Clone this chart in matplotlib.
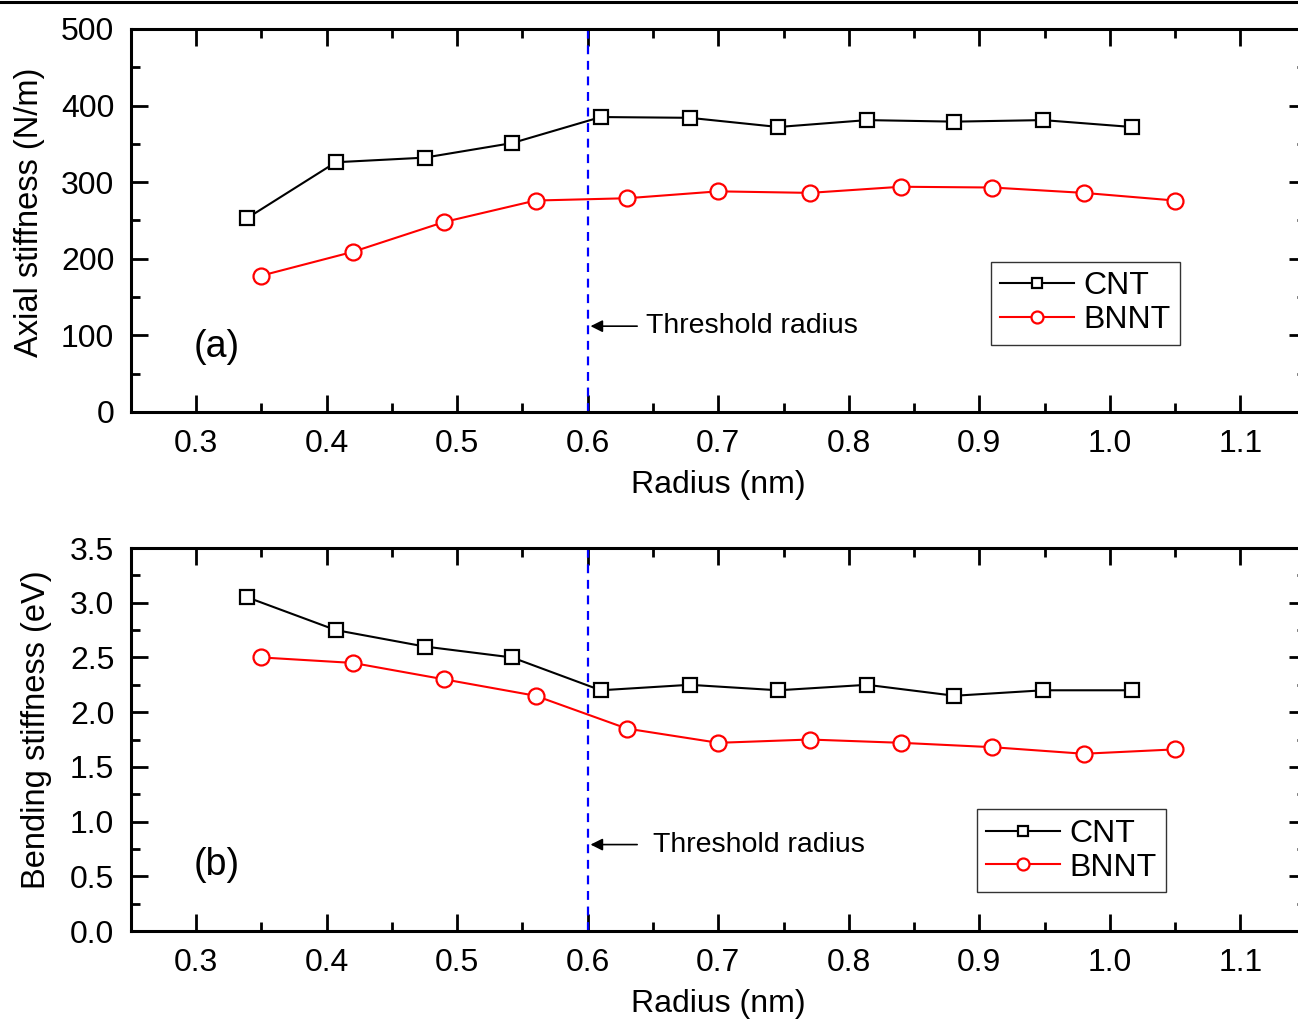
import matplotlib
matplotlib.use("Agg")
import matplotlib.pyplot as plt
from matplotlib.lines import Line2D
from matplotlib.ticker import MultipleLocator

plt.rcParams['font.family'] = ['Liberation Sans', 'DejaVu Sans']

# Tube radii (nm)
cnt_radius = [0.339, 0.407, 0.475, 0.542, 0.610, 0.678, 0.746, 0.814, 0.881, 0.949, 1.017]
bnnt_radius = [0.350, 0.420, 0.490, 0.560, 0.630, 0.700, 0.770, 0.840, 0.910, 0.980, 1.050]

# Axial stiffness (N/m)
cnt_axial = [253, 326, 332, 351, 385, 384, 372, 381, 379, 381, 372]
bnnt_axial = [178, 209, 248, 276, 279, 288, 286, 294, 293, 286, 276]

# Bending stiffness (eV)
cnt_bending = [3.05, 2.75, 2.60, 2.50, 2.20, 2.25, 2.20, 2.25, 2.15, 2.20, 2.20]
bnnt_bending = [2.50, 2.45, 2.30, 2.15, 1.85, 1.72, 1.75, 1.72, 1.68, 1.62, 1.66]

threshold = 0.6
x_ticks = [0.3, 0.4, 0.5, 0.6, 0.7, 0.8, 0.9, 1.0, 1.1]
x_tick_labels = ["0.3", "0.4", "0.5", "0.6", "0.7", "0.8", "0.9", "1.0", "1.1"]

fig = plt.figure(figsize=(12.98, 10.23), dpi=100)
ax1 = fig.add_axes([0.1009, 0.5973, 0.9049, 0.3744])
ax2 = fig.add_axes([0.1009, 0.0899, 0.9049, 0.3744])

# thin rule across the top of the figure
fig.add_artist(Line2D([0, 1], [0.998, 0.998], transform=fig.transFigure,
                      color='black', lw=2.2))


def style_axes(ax, ymax, ymajor, yminor, ylabel, ylabel_fmt, label_xy):
    ax.set_xlim(0.25, 1.15)
    ax.set_ylim(0, ymax)
    ax.set_xticks(x_ticks)
    ax.set_xticklabels(x_tick_labels)
    ax.xaxis.set_minor_locator(MultipleLocator(0.05))
    ax.yaxis.set_major_locator(MultipleLocator(ymajor))
    ax.yaxis.set_minor_locator(MultipleLocator(yminor))
    ax.yaxis.set_major_formatter(ylabel_fmt)
    ax.tick_params(which='both', direction='in', top=True, right=True,
                   width=2.0, labelsize=23)
    ax.tick_params(axis='x', pad=12)
    ax.tick_params(axis='y', pad=12)
    ax.tick_params(which='major', length=12)
    ax.tick_params(which='minor', length=6.5)
    for s in ax.spines.values():
        s.set_linewidth(2.2)
    ax.set_xlabel("Radius (nm)", fontsize=23, labelpad=8)
    ax.set_ylabel(ylabel, fontsize=23.5)
    ax.yaxis.set_label_coords(*label_xy)


def draw_panel(ax, cnt_y, bnnt_y):
    ax.plot(cnt_radius, cnt_y, '-s', color='black', lw=1.5, ms=10,
            mfc='white', mec='black', mew=1.6, label='CNT')
    ax.plot(bnnt_radius, bnnt_y, '-o', color='red', lw=1.5, ms=11.5,
            mfc='white', mec='red', mew=1.6, label='BNNT')
    ax.axvline(threshold, color='blue', ls=(0, (4, 3)), lw=1.6)


def add_legend(ax, anchor):
    leg = ax.legend(loc='upper left', bbox_to_anchor=anchor,
                    fontsize=23, frameon=True, fancybox=False, edgecolor='black',
                    handlelength=2.3, handletextpad=0.3, borderpad=0.3,
                    labelspacing=0.12, markerscale=0.75, borderaxespad=0)
    leg.get_frame().set_linewidth(1.0)
    return leg


# (a) axial stiffness
draw_panel(ax1, cnt_axial, bnnt_axial)
style_axes(ax1, 500, 100, 50, "Axial stiffness (N/m)",
           plt.FuncFormatter(lambda v, p: f"{v:.0f}"), (-0.073, 0.52))
ax1.annotate("", xy=(threshold, 112), xytext=(0.64, 112),
             arrowprops=dict(arrowstyle='-|>', color='black', lw=1.2,
                             mutation_scale=18))
ax1.text(0.645, 112, "Threshold radius", fontsize=20.5, va='center', ha='left')
ax1.text(0.298, 85, "(a)", fontsize=27, va='center', ha='left')
add_legend(ax1, (0.732, 0.392))

# (b) bending stiffness
draw_panel(ax2, cnt_bending, bnnt_bending)
style_axes(ax2, 3.5, 0.5, 0.25, "Bending stiffness (eV)",
           plt.FuncFormatter(lambda v, p: f"{v:.1f}"), (-0.067, 0.525))
ax2.annotate("", xy=(threshold, 0.79), xytext=(0.64, 0.79),
             arrowprops=dict(arrowstyle='-|>', color='black', lw=1.2,
                             mutation_scale=18))
ax2.text(0.65, 0.79, "Threshold radius", fontsize=20.5, va='center', ha='left')
ax2.text(0.298, 0.6, "(b)", fontsize=27, va='center', ha='left')
add_legend(ax2, (0.72, 0.318))

fig.savefig("out.png", dpi=100)
